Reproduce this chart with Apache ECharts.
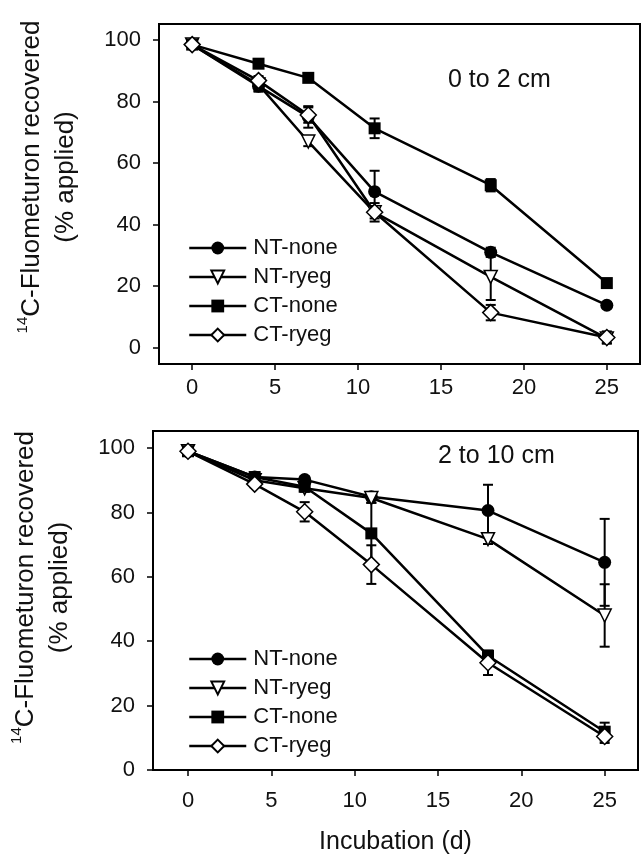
<!DOCTYPE html>
<html>
<head>
<meta charset="utf-8">
<style>
  html, body { margin: 0; padding: 0; background: #fff; }
  #main { width: 641px; height: 864px; }
</style>
<script src="https://cdn.jsdelivr.net/npm/echarts@6/dist/echarts.min.js"></script>
</head>
<body>
<div id="main"></div>
<script>
// incubation days
var days = [0, 4, 7, 11, 18, 25];
var names = ['NT-none', 'NT-ryeg', 'CT-none', 'CT-ryeg'];
var xTicks = [0, 5, 10, 15, 20, 25];
var yTicks = [0, 20, 40, 60, 80, 100];

// 0 to 2 cm
var topNTnone = [98.5, 85, 75, 50.7, 31, 13.8];
var topNTryeg = [98.5, 85.5, 67, 44, 23, 3];
var topCTnone = [98.5, 92.3, 87.7, 71.3, 52.8, 21];
var topCTryeg = [98.5, 86.8, 75.6, 44, 11.4, 3.3];
var topNTnoneErr = [1, 1.8, 3.5, 6.8, 1.5, 1];
var topNTryegErr = [1, 2, 1.5, 2, 7.5, 1.5];
var topCTnoneErr = [1, 1, 1, 3.2, 2, 1];
var topCTryegErr = [1, 1.5, 2.5, 3, 2.5, 2];

// 2 to 10 cm
var botNTnone = [99, 91, 90.2, 84.9, 80.6, 64.5];
var botNTryeg = [99, 90, 87.5, 84.5, 71.7, 48];
var botCTnone = [99, 91, 88, 73.5, 35.5, 11.9];
var botCTryeg = [99, 88.8, 80.2, 63.8, 33.3, 10.4];
var botNTnoneErr = [0.5, 1, 1, 1, 8, 13.5];
var botNTryegErr = [0.5, 1, 1, 1.5, 1.5, 9.7];
var botCTnoneErr = [0.5, 1, 1.5, 9.5, 1, 2.8];
var botCTryegErr = [0.5, 1, 3, 6, 3.8, 2];

var FONT = '"Liberation Sans", Arial, Helvetica, sans-serif';
var INK = '#111';

var marks = [
    {symbol: 'circle', size: 13, fill: '#000', rotate: 0},
    {symbol: 'triangle', size: 13, fill: '#fff', rotate: 180},
    {symbol: 'rect', size: 12, fill: '#000', rotate: 0},
    {symbol: 'diamond', size: 16, fill: '#fff', rotate: 0}
];

var myChart = echarts.init(document.getElementById('main'));

function errRows(vals, errs) {
    var rows = [];
    for (var i = 0; i < days.length; i++) {
        rows.push([days[i], vals[i] - errs[i], vals[i] + errs[i]]);
    }
    return rows;
}

function renderErr(params, api) {
    var x = api.value(0);
    var a = api.coord([x, api.value(2)]);
    var b = api.coord([x, api.value(1)]);
    var w = 5;
    var st = {stroke: '#000', lineWidth: 2};
    return {
        type: 'group',
        children: [
            {type: 'line', shape: {x1: a[0], y1: a[1], x2: b[0], y2: b[1]}, style: st},
            {type: 'line', shape: {x1: a[0] - w, y1: a[1], x2: a[0] + w, y2: a[1]}, style: st},
            {type: 'line', shape: {x1: b[0] - w, y1: b[1], x2: b[0] + w, y2: b[1]}, style: st}
        ]
    };
}

function panelSeries(idx, sets, errs) {
    var out = [];
    for (var k = 0; k < sets.length; k++) {
        out.push({
            type: 'custom',
            xAxisIndex: idx, yAxisIndex: idx,
            renderItem: renderErr,
            encode: {x: 0, y: [1, 2]},
            data: errRows(sets[k], errs[k]),
            silent: true,
            z: 1
        });
    }
    for (var k = 0; k < sets.length; k++) {
        var pts = [];
        for (var i = 0; i < days.length; i++) pts.push([days[i], sets[k][i]]);
        out.push({
            name: names[k],
            type: 'line',
            xAxisIndex: idx, yAxisIndex: idx,
            data: pts,
            symbol: marks[k].symbol,
            symbolSize: marks[k].size,
            symbolRotate: marks[k].rotate,
            showAllSymbol: true,
            lineStyle: {color: '#000', width: 2.5},
            itemStyle: {color: marks[k].fill, borderColor: '#000', borderWidth: marks[k].fill === '#fff' ? 1.5 : 0},
            emphasis: {disabled: true},
            animation: false,
            z: 2 + k
        });
    }
    return out;
}

function xAxisFor(idx, min, margin) {
    return {
        type: 'value', gridIndex: idx, min: min, max: 27,
        axisLine: {onZero: false, lineStyle: {color: '#000', width: 2}},
        axisTick: {length: 6, lineStyle: {color: '#000', width: 1.5}, customValues: xTicks},
        axisLabel: {customValues: xTicks, fontSize: 22, fontFamily: FONT, color: INK, margin: margin},
        splitLine: {show: false}
    };
}

var yName = '{sup|14}{t|C-Fluometuron recovered}\n{t|(% applied)}';
function yAxisFor(idx, min, max, pad, gap) {
    return {
        type: 'value', gridIndex: idx, min: min, max: max,
        name: yName, nameLocation: 'middle', nameRotate: 90, nameGap: gap,
        nameTextStyle: {
            fontFamily: FONT, color: INK, padding: [0, 0, 0, pad], align: 'center',
            rich: {
                t: {fontSize: 26, fontFamily: FONT, color: INK, lineHeight: 34},
                sup: {fontSize: 15, fontFamily: FONT, color: INK, lineHeight: 34, verticalAlign: 'top', padding: [0, 0, 12, 0]}
            }
        },
        axisLine: {show: true, onZero: false, lineStyle: {color: '#000', width: 2}},
        axisTick: {show: true, length: 6, lineStyle: {color: '#000', width: 1.5}, customValues: yTicks},
        axisLabel: {customValues: yTicks, fontSize: 22, fontFamily: FONT, color: INK, margin: 18},
        splitLine: {show: false}
    };
}

function legendFor(top) {
    return {
        data: names, orient: 'vertical', left: 183, top: top,
        itemWidth: 57, itemHeight: 16, itemGap: 7,
        selectedMode: false,
        lineStyle: {width: 2.5, color: '#000'},
        textStyle: {fontSize: 22, fontFamily: FONT, color: INK, lineHeight: 22, padding: [0, 0, 0, 2]}
    };
}

var option = {
    backgroundColor: '#fff',
    animation: false,
    title: [
        {text: '0 to 2 cm', left: 443, top: 63, textStyle: {fontSize: 25, fontWeight: 'normal', fontFamily: FONT, color: INK}},
        {text: '2 to 10 cm', left: 433, top: 439, textStyle: {fontSize: 25, fontWeight: 'normal', fontFamily: FONT, color: INK}}
    ],
    legend: [legendFor(232), legendFor(643)],
    grid: [
        {left: 159, top: 24, width: 481, height: 340, show: true, borderColor: '#000', borderWidth: 2},
        {left: 153, top: 431, width: 485, height: 339, show: true, borderColor: '#000', borderWidth: 2}
    ],
    xAxis: [
        xAxisFor(0, -2, 13),
        (function () {
            var ax = xAxisFor(1, -2.1, 20);
            ax.name = 'Incubation (d)';
            ax.nameLocation = 'middle';
            ax.nameGap = 60;
            ax.nameTextStyle = {fontSize: 25, fontFamily: FONT, color: INK};
            return ax;
        })()
    ],
    yAxis: [
        yAxisFor(0, -5.3, 105.2, 34, 76),
        yAxisFor(1, 0, 105.3, 26, 76)
    ],
    series: [].concat(
        panelSeries(0, [topNTnone, topNTryeg, topCTnone, topCTryeg],
                    [topNTnoneErr, topNTryegErr, topCTnoneErr, topCTryegErr]),
        panelSeries(1, [botNTnone, botNTryeg, botCTnone, botCTryeg],
                    [botNTnoneErr, botNTryegErr, botCTnoneErr, botCTryegErr])
    )
};

myChart.setOption(option);
</script>
</body>
</html>
